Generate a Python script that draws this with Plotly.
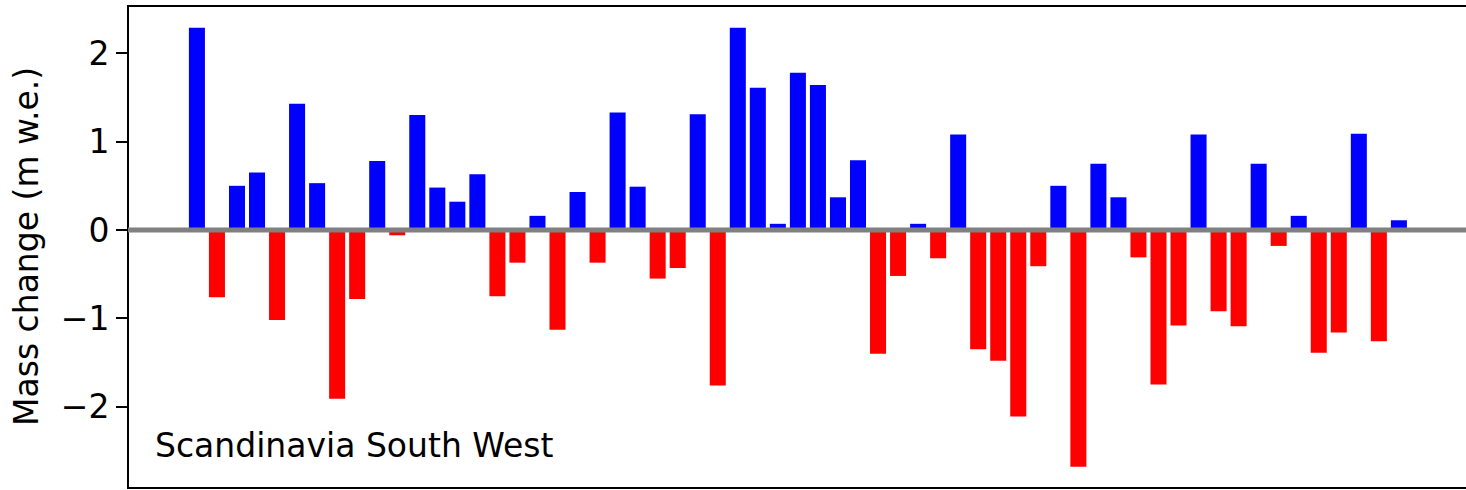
import plotly.graph_objects as go

# Annual mass balance, Scandinavia South West (m w.e.)
years = list(range(1962, 2023))
mass_change = [
    2.29, -0.76, 0.50, 0.65, -1.02, 1.43, 0.53, -1.91, -0.78, 0.78,
    -0.06, 1.30, 0.48, 0.32, 0.63, -0.75, -0.37, 0.16, -1.13, 0.43,
    -0.37, 1.33, 0.49, -0.55, -0.43, 1.31, -1.76, 2.29, 1.61, 0.07,
    1.78, 1.64, 0.37, 0.79, -1.40, -0.52, 0.07, -0.32, 1.08, -1.35,
    -1.48, -2.11, -0.41, 0.50, -2.68, 0.75, 0.37, -0.31, -1.75, -1.08,
    1.08, -0.92, -1.09, 0.75, -0.18, 0.16, -1.39, -1.16, 1.09, -1.26,
    0.11,
]
y_ticks = [-2, -1, 0, 1, 2]
region_name = "Scandinavia South West"
y_title = "Mass change (m w.e.)"

bar_colors = ["#0000ff" if v >= 0 else "#ff0000" for v in mass_change]

FONT = "DejaVu Sans"

fig = go.Figure(
    go.Bar(
        x=years,
        y=mass_change,
        width=0.8,
        marker=dict(color=bar_colors, line=dict(width=0)),
        hoverinfo="x+y",
    )
)

W, H = 1466, 490
L, R, T, B = 128, 0, 6, 2
PW, PH = W - L - R, H - T - B

# frame: left, top and bottom spines (the right edge stays open)
frame = dict(type="line", xref="paper", yref="paper",
             line=dict(color="black", width=2), layer="above")
shapes = [
    dict(frame, x0=0, x1=1, y0=1, y1=1),
    dict(frame, x0=0, x1=1, y0=0, y1=0),
    dict(frame, x0=0, x1=0, y0=-1 / PH, y1=1 + 1 / PH),
    # zero reference line
    dict(type="line", xref="paper", yref="y", x0=0, x1=1, y0=0, y1=0,
         line=dict(color="#808080", width=5), layer="above"),
]

fig.update_layout(
    width=W,
    height=H,
    margin=dict(l=L, r=R, t=T, b=B, pad=0),
    paper_bgcolor="white",
    plot_bgcolor="white",
    showlegend=False,
    font=dict(family=FONT, size=33, color="black"),
    xaxis=dict(
        range=[years[0] - 3.44, years[0] + 63.35],
        showticklabels=False,
        ticks="",
        showgrid=False,
        zeroline=False,
        showline=False,
    ),
    yaxis=dict(
        range=[-2.92, 2.535],
        tickvals=y_ticks,
        ticks="outside",
        ticklen=11,
        tickwidth=2,
        tickcolor="black",
        tickfont=dict(family=FONT, size=33, color="black"),
        showgrid=False,
        zeroline=False,
        showline=False,
    ),
    shapes=shapes,
    annotations=[
        dict(
            text=y_title, textangle=-90,
            xref="paper", yref="paper",
            x=(26 - L) / PW, y=0.5,
            xanchor="center", yanchor="middle",
            showarrow=False,
            font=dict(family=FONT, size=33, color="black"),
        ),
        dict(
            text=region_name,
            xref="paper", yref="paper",
            x=(153 - L) / PW, y=(H - B - 445) / PH,
            xanchor="left", yanchor="middle",
            showarrow=False,
            font=dict(family=FONT, size=33, color="black"),
        ),
    ],
)

fig.write_html("out.html")
